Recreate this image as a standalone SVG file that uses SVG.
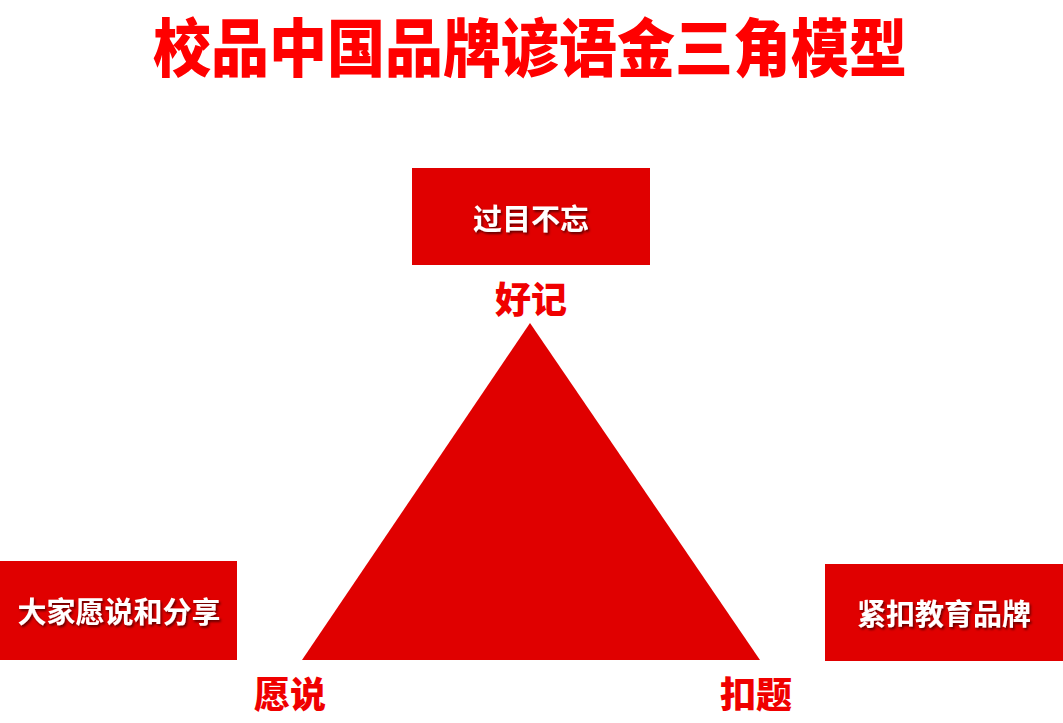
<svg xmlns="http://www.w3.org/2000/svg" width="1063" height="723" viewBox="0 0 1063 723">
<defs>
<filter id="sh" x="-10%" y="-20%" width="130%" height="160%">
<feDropShadow dx="1.5" dy="2" stdDeviation="1.2" flood-color="#000" flood-opacity="0.55"/>
</filter>
</defs>
<style>
.box{fill:#E00000}
.bt{font-family:"Noto Sans CJK SC","Noto Sans",sans-serif;font-weight:700;font-size:29px;fill:#FFFFFF;text-anchor:middle;dominant-baseline:central;filter:url(#sh)}
.lbl{font-family:"Noto Sans CJK SC","Noto Sans",sans-serif;font-weight:900;font-size:36px;fill:#F00000;text-anchor:middle;dominant-baseline:central}
.title{font-family:"Noto Sans CJK SC","Noto Sans",sans-serif;font-weight:900;font-size:58px;fill:#FF0000;text-anchor:middle;dominant-baseline:central}
</style>
<rect width="1063" height="723" fill="#FFFFFF"/>
<text class="title" transform="translate(530,44) scale(1,1.08)" x="0" y="0">校品中国品牌谚语金三角模型</text>
<g id="triangle">
<polygon points="530,323 302,660 760,660" fill="#E00000"/>
</g>
<g id="top">
<rect class="box" x="412" y="168" width="238" height="97"/>
<text class="bt" x="531" y="217">过目不忘</text>
<text class="lbl" x="531" y="297">好记</text>
</g>
<g id="left">
<rect class="box" x="0" y="561" width="237" height="99"/>
<text class="bt" x="119" y="610">大家愿说和分享</text>
<text class="lbl" x="290" y="692">愿说</text>
</g>
<g id="right">
<rect class="box" x="825" y="564" width="238" height="97"/>
<text class="bt" x="944" y="612">紧扣教育品牌</text>
<text class="lbl" x="756" y="692">扣题</text>
</g>
<g id="connectors"></g>
</svg>
